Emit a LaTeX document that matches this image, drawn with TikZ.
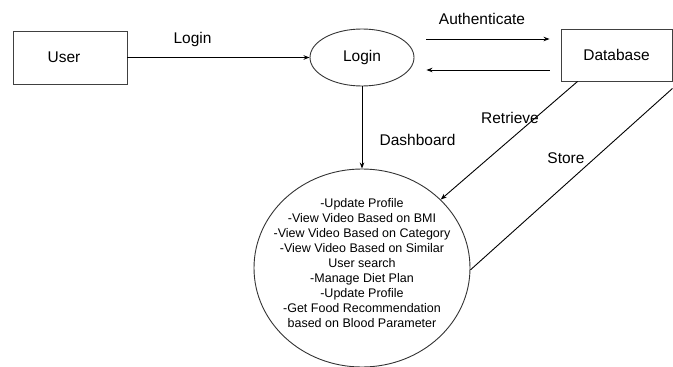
\documentclass[tikz,border=0pt]{standalone}
\usepackage{fontspec}
\setmainfont{Liberation Sans}
\usetikzlibrary{arrows.meta,calc,shapes.geometric}
\begin{document}
\begin{tikzpicture}[x=1pt,y=-1pt,
  line width=0.9pt,
  box/.style={draw=black!75, line width=0.9pt, minimum width=114pt, minimum height=53pt, inner sep=0pt, font=\fontsize{15.5}{18}\selectfont},
  oval/.style={draw=black!80, ellipse, inner sep=0pt},
  lbl/.style={font=\fontsize{15.5}{18}\selectfont, inner sep=0pt},
  arr/.style={-{Stealth[length=6pt,width=4.5pt]}, line width=0.9pt}
]
\useasboundingbox (0,0) rectangle (673,367);
% nodes
\node[box] (user) at (70,57.5) {\hspace*{-12pt}User};
\node[box, minimum width=111pt, minimum height=52pt] (db) at (616.5,55) {Database};
\node[oval, minimum width=104pt, minimum height=57pt, font=\fontsize{15.5}{18}\selectfont] (login) at (362,57.5) {Login};
\node[oval, minimum width=216pt, minimum height=198pt] (dash) at (362,268) {};
\node[align=center, inner sep=0pt, font=\fontsize{12.5}{15.1}\selectfont] (dashtxt) at (362,263)
 {-Update Profile\\-View Video Based on BMI\\-View Video Based on Category\\-View Video Based on Similar\\User search\\-Manage Diet Plan\\-Update Profile\\-Get Food Recommendation\\based on Blood Parameter};
% connector ends
\coordinate (authA) at ($(login.east)+(12,-18.5)$);
\coordinate (authB) at ($(db.west)+(-11,-16)$);
\coordinate (backA) at ($(db.west)+(-11,15)$);
\coordinate (backB) at ($(login.east)+(12,12.5)$);
% connectors
\draw[arr] (user.east) -- (login.west);
\draw[arr] (authA) -- (authB);
\draw[arr] (backA) -- (backB);
\draw[arr] (login.south) -- (dash.north);
\draw[arr] ($(db.south west)+(17,0)$) -- (dash.41.5);
\draw (dash.-1.6) -- ($(db.south east)+(0,7)$);
% labels
\node[lbl] (lLogin) at (192.5,39) {Login};
\node[lbl] (lAuth) at (482,19) {Authenticate};
\node[lbl] (lDash) at (417.5,140) {Dashboard};
\node[lbl] (lRet) at (510,118) {Retrieve};
\node[lbl] (lStore) at (566,158) {Store};
\end{tikzpicture}
\end{document}
